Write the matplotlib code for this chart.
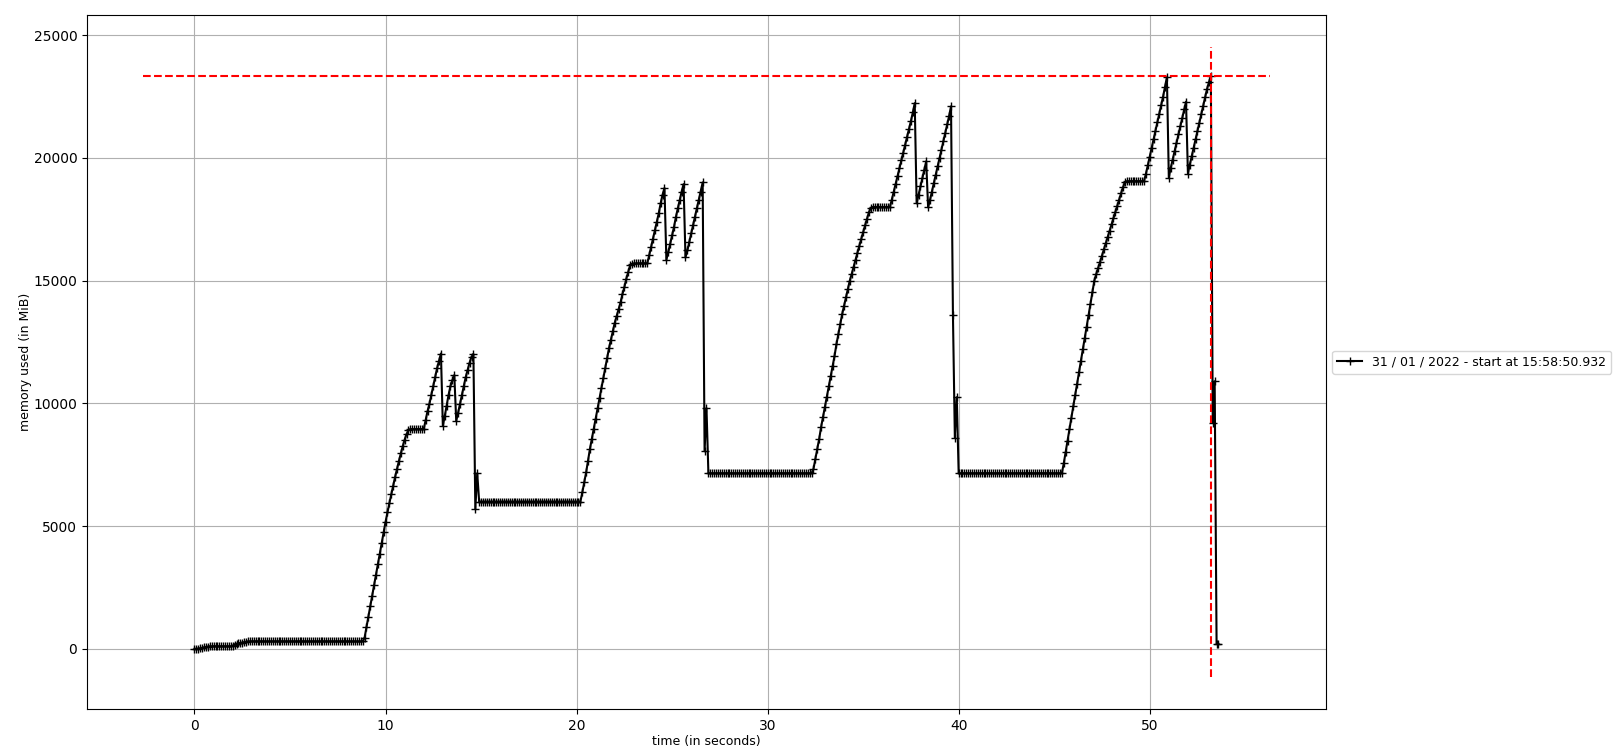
import numpy as np
import matplotlib
matplotlib.use("Agg")
import matplotlib.pyplot as plt

plt.rcParams['font.family'] = ['DejaVu Sans']

# memory_profiler sampling interval (seconds)
SAMPLE_INTERVAL = 0.1

# memory samples (MiB), in sampling order
mem_start = [0, 5, 10, 20, 35, 60, 80, 90]
mem_idle1 = [100] * 12
mem_step = [130, 170, 200, 220, 240, 255, 270, 285]
mem_idle2 = [300] * 61
mem_rise1 = [440, 870, 1300, 1730, 2160, 2590, 3020, 3450, 3880, 4310, 4740,
             5170, 5560, 5930, 6290, 6650, 7000, 7330, 7650, 7960, 8250, 8520,
             8750, 8900, 8950]
mem_plat1 = [8950] * 7
mem_saw1 = [9330, 9690, 9990, 10350, 10710, 11080, 11440, 11730, 12030,
            9080, 9480, 9910, 10350, 10710, 10950, 11150,
            9290, 9620, 9985, 10350, 10710, 11080, 11370, 11660, 11900, 12000,
            5700, 7150]
mem_low1 = [6000] * 54
mem_rise2 = [6370, 6780, 7190, 7670, 8150, 8560, 8970, 9380, 9795, 10200,
             10620, 11030, 11440, 11850, 12260, 12600, 12950, 13290, 13560,
             13840, 14110, 14450, 14730, 15070, 15340, 15620, 15680]
mem_plat2 = [15700] * 8
mem_saw2 = [16030, 16370, 16710, 17050, 17400, 17740, 18150, 18500, 18770,
            15850, 16160, 16500, 16850, 17190, 17600, 17945, 18290, 18630, 18930,
            15950, 16230, 16575, 16920, 17260, 17600, 17945, 18290, 18630, 19000,
            8050, 9800]
mem_low2 = [7150] * 55
mem_rise3 = [7330, 7740, 8150, 8560, 9040, 9450, 9860, 10270, 10690, 11100,
             11510, 11920, 12400, 12810, 13220, 13630, 13970, 14320, 14660,
             15000, 15270, 15560, 15850, 16140, 16420, 16700, 16980, 17250,
             17520, 17780, 17960]
mem_plat3 = [18000] * 10
mem_saw3 = [18300, 18620, 18940, 19260, 19580, 19900, 20220, 20540, 20860,
            21180, 21500, 21850, 22230,
            18150, 18490, 18835, 19180, 19520, 19860,
            17990, 18290, 18630, 18970, 19315, 19660, 20000, 20340, 20690,
            21030, 21370, 21710, 22100,
            13600, 8600, 10250]
mem_low3 = [7150] * 55
mem_rise4 = [7550, 8010, 8480, 8950, 9420, 9880, 10350, 10800, 11280, 11740,
             12200, 12660, 13130, 13600, 14060, 14540, 15000, 15270, 15510,
             15760, 16020, 16270, 16520, 16780, 17030, 17290, 17540, 17790,
             18040, 18300, 18560, 18800, 19000]
mem_plat4 = [19050] * 10
mem_saw4 = [19350, 19700, 20050, 20400, 20750, 21100, 21450, 21800, 22150,
            22500, 22900, 23290,
            19200, 19590, 19930, 20270, 20620, 20960, 21300, 21640, 21990, 22290,
            19360, 19730, 20070, 20410, 20760, 21100, 21440, 21780, 22120,
            22470, 22810, 23080, 23350]
mem_end = [9200, 10900, 200, 200]

mem = np.array(mem_start + mem_idle1 + mem_step + mem_idle2 + mem_rise1 +
               mem_plat1 + mem_saw1 + mem_low1 + mem_rise2 + mem_plat2 +
               mem_saw2 + mem_low2 + mem_rise3 + mem_plat3 + mem_saw3 +
               mem_low3 + mem_rise4 + mem_plat4 + mem_saw4 + mem_end, dtype=float)
t = np.arange(len(mem)) * SAMPLE_INTERVAL

label = "31 / 01 / 2022 - start at 15:58:50.932"

fig = plt.figure(figsize=(16.23, 7.56), dpi=100)
ax = fig.add_axes([0.0536, 0.0622, 0.817 - 0.0536, 0.9795 - 0.0622])

ax.plot(t, mem, "+-k", label=label)

# peak markers as drawn by mprof (span current limits)
max_idx = int(np.argmax(mem))
max_mem = mem[max_idx]
xl = ax.get_xlim()
ax.hlines(max_mem, xl[0] + 0.001, xl[1] - 0.001, colors="r", linestyles="--")
yl = ax.get_ylim()
ax.vlines(t[max_idx], yl[0] + 0.001, yl[1] - 0.001, colors="r", linestyles="--")

ax.set_xlabel("time (in seconds)", fontsize=9, labelpad=1.5)
ax.set_ylabel("memory used (in MiB)", fontsize=9, labelpad=1)
ax.grid(True)
ax.legend(loc="center left", bbox_to_anchor=(1, 0.5), fontsize=9)

fig.savefig("out.png", dpi=100)
